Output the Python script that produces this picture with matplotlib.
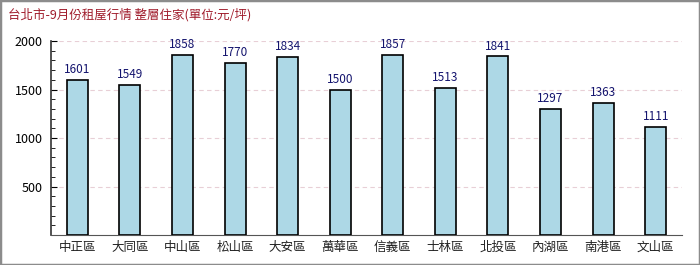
import matplotlib
matplotlib.use("Agg")
import matplotlib.pyplot as plt
from matplotlib.patches import Rectangle
from matplotlib.ticker import MultipleLocator

plt.rcParams['font.family'] = ['Noto Sans CJK TC', 'DejaVu Sans']

districts = ['中正區', '大同區', '中山區', '松山區', '大安區', '萬華區',
             '信義區', '士林區', '北投區', '內湖區', '南港區', '文山區']
rents = [1601, 1549, 1858, 1770, 1834, 1500, 1857, 1513, 1841, 1297, 1363, 1111]
yticks = [500, 1000, 1500, 2000]
title = '台北市-9月份租屋行情 整層住家(單位:元/坪)'

fig = plt.figure(figsize=(7, 2.65), dpi=100)
fig.patch.set_facecolor('white')
# grey frame round the picture
fig.patches.append(Rectangle((0, 0), 1, 1, transform=fig.transFigure,
                             fill=False, edgecolor='#8c8c8c', linewidth=2.5))

ax = fig.add_axes([51 / 700, 1 - 235 / 265, 631 / 700, 194 / 265])
x = list(range(len(districts)))
ax.bar(x, rents, width=0.4, color='#add8e6', edgecolor='black', linewidth=1.2, zorder=3)
for xi, v in zip(x, rents):
    ax.text(xi, v + 40, str(v), ha='center', va='bottom', color='#14146e', fontsize=8.5)

ax.set_xlim(-0.5, len(districts) - 0.5)
ax.set_ylim(0, 2000)
ax.set_yticks(yticks)
ax.yaxis.set_minor_locator(MultipleLocator(100))
ax.set_xticks(x)
ax.set_xticklabels(districts, fontsize=9, color='#222222')
ax.tick_params(axis='x', length=0, pad=4)
ax.tick_params(axis='y', which='major', direction='in', length=4, labelsize=9, pad=6)
ax.tick_params(axis='y', which='minor', direction='in', length=3)
ax.grid(axis='y', linestyle=(0, (4, 3)), color='#e8cfd6', linewidth=0.8, zorder=0)
for s in ['top', 'right']:
    ax.spines[s].set_visible(False)
ax.spines['left'].set_color('#333333')
ax.spines['bottom'].set_color('#555555')
ax.spines['left'].set_linewidth(1.2)

fig.text(8 / 700, 1 - 15 / 265, title, color='#a01c2c', fontsize=9, va='center', ha='left')

fig.savefig('out.png', dpi=100)
